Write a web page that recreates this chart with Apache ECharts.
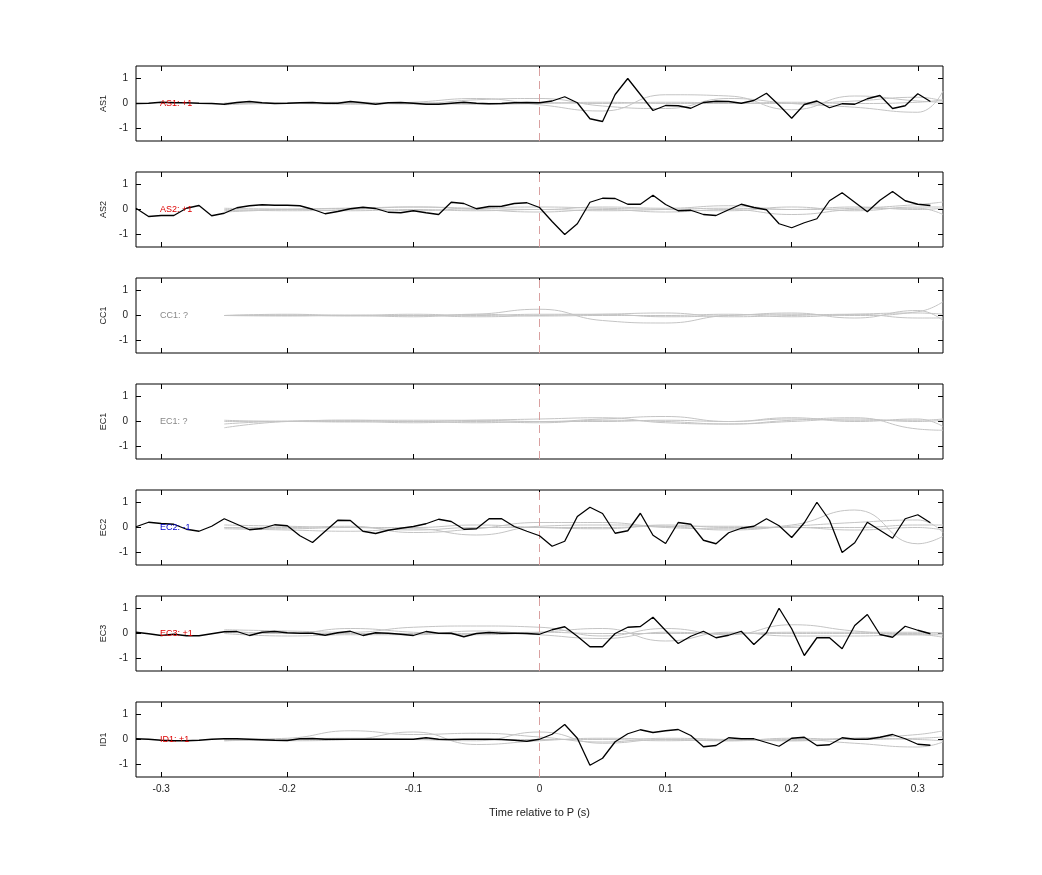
<!DOCTYPE html>
<html>
<head>
<meta charset="utf-8">
<script src="https://cdn.jsdelivr.net/npm/echarts@6/dist/echarts.min.js"></script>
<style>html,body{margin:0;background:#fff}#main{width:1042px;height:875px}</style>
</head>
<body>
<div id="main"></div>
<script>
// stations, top to bottom
var stations = ['AS1', 'AS2', 'CC1', 'EC1', 'EC2', 'EC3', 'ID1'];
var tags = ['AS1: +1', 'AS2: +1', 'CC1: ?', 'EC1: ?', 'EC2: -1', 'EC3: +1', 'ID1: +1'];
var tagColors = ['#d00', '#d00', '#888', '#888', '#00c', '#d00', '#d00'];
var xTicks = [-0.3, -0.2, -0.1, 0, 0.1, 0.2, 0.3];
var yTicks = [-1, 0, 1];

// black traces, one value every 0.01 s from -0.32 to 0.31
var times = [];
for (var i = 0; i < 64; i++) times.push(+(-0.32 + i * 0.01).toFixed(2));

var as1 = [0,0.01,0.05,0.03,0.03,0.01,0,-0.03,0.04,0.08,0.03,0,0.01,0.03,0.04,0.01,0.01,0.08,0.03,-0.03,0.03,0.04,0.01,-0.03,-0.03,0.01,0.05,0.01,-0.01,0,0.03,0.04,
  0.03,0.1,0.27,0.03,-0.61,-0.72,0.36,1.0,0.36,-0.28,-0.08,-0.09,-0.19,0.04,0.09,0.08,0.01,0.12,0.41,-0.07,-0.59,-0.04,0.1,-0.17,-0.01,-0.03,0.19,0.32,-0.2,-0.09,0.39,0.08];
var as2 = [0.05,-0.28,-0.24,-0.24,0.05,0.16,-0.25,-0.15,0.07,0.15,0.19,0.17,0.17,0.15,0.01,-0.17,-0.08,0.03,0.09,0.04,-0.11,-0.13,-0.05,-0.13,-0.2,0.29,0.24,0.03,0.12,0.13,0.24,0.27,
  0.08,-0.48,-1.0,-0.57,0.29,0.45,0.44,0.21,0.21,0.57,0.2,-0.05,-0.03,-0.2,-0.24,-0.01,0.21,0.08,-0.01,-0.57,-0.73,-0.53,-0.37,0.35,0.67,0.29,-0.09,0.37,0.72,0.35,0.21,0.16];
var ec2 = [0.03,0.21,0.16,0.13,-0.07,-0.15,0.05,0.35,0.13,-0.09,-0.04,0.11,0.07,-0.33,-0.6,-0.15,0.29,0.28,-0.15,-0.24,-0.11,-0.03,0.04,0.15,0.33,0.24,-0.07,-0.05,0.35,0.35,0.04,-0.15,
  -0.33,-0.75,-0.55,0.44,0.81,0.56,-0.23,-0.13,0.57,-0.31,-0.64,0.2,0.13,-0.51,-0.65,-0.21,-0.03,0.05,0.35,0.07,-0.4,0.19,1.01,0.29,-1.0,-0.61,0.21,-0.11,-0.43,0.35,0.51,0.19];
var ec3 = [0.05,-0.01,-0.08,-0.03,-0.09,-0.09,-0.01,0.07,0.08,-0.08,0.05,0.08,0.03,0.01,0.01,-0.07,0.03,0.09,-0.08,0.03,0.01,-0.03,-0.08,0.08,0.01,0.01,-0.13,0,0.04,0.01,0.01,0,
  -0.03,0.15,0.27,-0.11,-0.53,-0.53,0,0.25,0.28,0.65,0.12,-0.4,-0.11,0.09,-0.17,-0.07,0.09,-0.44,0.03,1.01,0.19,-0.88,-0.17,-0.17,-0.61,0.32,0.76,-0.04,-0.15,0.29,0.13,-0.01];
var id1 = [0.03,0.01,-0.03,-0.05,-0.05,-0.03,0.01,0.03,0.03,0.01,-0.01,-0.03,-0.04,0.03,0.04,0.01,0.01,0.01,0.01,0.01,0.01,0.01,0.01,0.07,0.01,0,0.01,0.01,0.01,0,-0.03,-0.07,
  0.01,0.21,0.6,0.05,-1.03,-0.75,-0.09,0.23,0.39,0.28,0.35,0.4,0.16,-0.29,-0.24,0.07,0.03,0.03,-0.12,-0.27,0.05,0.09,-0.24,-0.21,0.07,0.01,0.01,0.09,0.2,0.03,-0.19,-0.23];
var blacks = [as1, as2, null, null, ec2, ec3, id1];

// grey comparison traces, sampled coarsely
var grayTimes = [-0.25, -0.2, -0.15, -0.1, -0.05, 0, 0.05, 0.1, 0.15, 0.2, 0.25, 0.3, 0.32];
var grays = [
  [[0,0.02,0.05,0,0.15,0.2,-0.1,-0.2,0.2,0,-0.15,-0.35,0.5],
   [-0.05,0,-0.03,0.05,0.2,-0.05,-0.3,0.35,0.3,-0.25,0.3,0.1,0.05],
   [0.02,0,0.02,-0.02,0,0.03,0,0.05,0.02,0,0.1,0.25,0.1],
   [0,0.02,0,0.03,-0.03,0,0.05,0,0,0.05,0,0.05,0.15]],
  [[-0.1,0,0.05,0.1,0.05,0,0.1,0.05,0.15,0,0.05,0.2,0.3],
   [0,-0.05,0,0.1,0,-0.1,0,-0.1,0,-0.2,0,0.05,-0.2],
   [0.05,0.02,0.05,-0.05,0.05,0.1,0.05,0,-0.05,0.1,-0.05,0.1,0.1],
   [-0.05,0,-0.05,0,-0.05,0,-0.05,0,0.05,0,0.1,0,0.05]],
  [[0,0,0.02,0,0.05,0.25,-0.2,-0.3,0,0.05,0,0.15,0.55],
   [0,0.05,0,0.05,0,0.05,0.05,-0.05,0,0.1,-0.1,0.2,-0.2],
   [0,0.02,-0.02,0,-0.05,0,0.05,0.1,-0.05,0,0.05,-0.1,-0.1],
   [0,-0.02,0,-0.05,0.05,-0.02,0,0,0.05,-0.05,0.05,0.1,0.05]],
  [[-0.25,0,0.05,0.05,0.05,0,0.1,0.2,0,0.15,0,0.1,-0.2],
   [0.05,0,0,-0.05,0,-0.05,0.05,0,-0.1,0.05,0.15,-0.3,-0.35],
   [0,0.02,0.05,0,0.05,0.1,0.15,-0.05,-0.1,0,0.1,0,0.05],
   [-0.1,0,-0.02,0,-0.05,0,0,0.05,0,0.1,0.05,0.05,0.1]],
  [[0,0,0.05,-0.2,-0.05,0.2,0.2,0,-0.05,0.1,0.7,-0.65,-0.35],
   [-0.05,-0.1,-0.15,-0.05,-0.3,0.05,0.1,0.05,-0.1,0.05,0.2,0.3,-0.2],
   [0.1,0.05,0,0,0.1,0,-0.05,0.1,0,0,-0.1,0,-0.1],
   [0,-0.05,0,-0.1,0,0,0,0.05,0.05,0,0,0.1,0.1]],
  [[0.15,0.1,0.05,0.25,0.3,0.25,-0.1,0.2,-0.05,0.35,0.1,-0.05,-0.05],
   [0.1,0,0.2,0.05,-0.05,0.05,0.2,-0.3,0.05,-0.1,-0.1,-0.05,-0.15],
   [0,-0.1,-0.05,-0.05,0.1,-0.05,-0.2,0.05,0,0.05,0.05,0.05,0],
   [0.05,0,0,0,0,0.05,0,0,0,0,0,0,0.05]],
  [[0,0.05,0.35,0.2,0.25,0.1,-0.1,0.05,0,-0.05,0.05,0.2,0.35],
   [-0.05,0,0.05,0,-0.05,0.3,-0.15,0,-0.05,0,-0.15,-0.3,-0.1],
   [0,-0.05,0,0.3,-0.2,-0.05,0.05,0,-0.05,0.05,0,0.05,0.1],
   [-0.05,0,0,0,0,0,0,-0.05,0,-0.05,0.05,0,-0.05]]
];

var chart = echarts.init(document.getElementById('main'));
var grid = [], xAxis = [], yAxis = [], series = [], title = [];
var tickStyle = { show: true, inside: true, length: 5, lineStyle: { color: '#000' } };

stations.forEach(function (name, k) {
  var top = 66 + k * 106;
  grid.push({ left: 136, right: 99, top: top, height: 75, show: true, borderColor: '#000', borderWidth: 1 });
  var last = k === stations.length - 1;
  [0, 1].forEach(function (side) {
    xAxis.push({
      type: 'value', gridIndex: k, min: -0.32, max: 0.32, position: side ? 'top' : 'bottom',
      splitLine: { show: false }, axisLine: { show: false, onZero: false },
      axisTick: Object.assign({ customValues: xTicks }, tickStyle),
      axisLabel: { show: last && !side, customValues: xTicks, color: '#222', fontSize: 10, margin: 7,
        formatter: function (v) { return v === 0 ? '0' : String(+v.toFixed(1)); } },
      name: last && !side ? 'Time relative to P (s)' : '', nameLocation: 'middle', nameGap: 30,
      nameTextStyle: { color: '#222', fontSize: 11 }
    });
    yAxis.push({
      type: 'value', gridIndex: k, min: -1.5, max: 1.5, position: side ? 'right' : 'left',
      splitLine: { show: false }, axisLine: { show: false, onZero: false },
      axisTick: Object.assign({ customValues: yTicks }, tickStyle),
      axisLabel: { show: !side, customValues: yTicks, color: '#222', fontSize: 10, margin: 8 },
      name: side ? '' : name, nameLocation: 'middle', nameGap: 28, nameRotate: 90,
      nameTextStyle: { color: '#222', fontSize: 9 }
    });
  });
  grays[k].forEach(function (g, j) {
    series.push({
      type: 'line', xAxisIndex: 2 * k, yAxisIndex: 2 * k, smooth: 0.5, symbol: 'none', silent: true,
      lineStyle: { color: '#c4c4c4', width: 1 },
      data: grayTimes.map(function (t, n) { return [t, g[n]]; }),
      markLine: j === 0 ? { silent: true, symbol: 'none', label: { show: false },
        lineStyle: { color: '#d9a0a0', type: [8, 5], width: 1 }, data: [{ xAxis: 0 }] } : undefined
    });
  });
  if (blacks[k]) {
    series.push({
      type: 'line', xAxisIndex: 2 * k, yAxisIndex: 2 * k, symbol: 'none', silent: true,
      lineStyle: { color: '#000', width: 1.3 }, z: 5,
      data: times.map(function (t, n) { return [t, blacks[k][n]]; })
    });
  }
  title.push({ text: tags[k], left: 160, top: top + 33, padding: 0,
    textStyle: { color: tagColors[k], fontSize: 9, fontWeight: 'normal' } });
});

chart.setOption({
  animation: false,
  title: title,
  grid: grid,
  xAxis: xAxis,
  yAxis: yAxis,
  series: series
});
</script>
</body>
</html>
